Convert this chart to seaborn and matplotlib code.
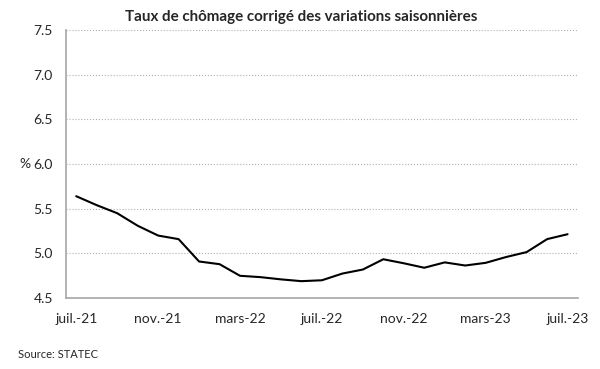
import pandas as pd
import matplotlib.pyplot as plt
import seaborn as sns

# mois de juil.-21 a juil.-23
mois = ['juil.-21', 'août-21', 'sept.-21', 'oct.-21', 'nov.-21', 'déc.-21',
        'janv.-22', 'févr.-22', 'mars-22', 'avr.-22', 'mai-22', 'juin-22',
        'juil.-22', 'août-22', 'sept.-22', 'oct.-22', 'nov.-22', 'déc.-22',
        'janv.-23', 'févr.-23', 'mars-23', 'avr.-23', 'mai-23', 'juin-23',
        'juil.-23']
taux = [5.64, 5.54, 5.45, 5.31, 5.20, 5.16, 4.91, 4.88, 4.75, 4.735, 4.71, 4.69,
        4.70, 4.775, 4.82, 4.935, 4.89, 4.84, 4.90, 4.865, 4.895, 4.96, 5.015,
        5.16, 5.215]
yticks = [4.5, 5.0, 5.5, 6.0, 6.5, 7.0, 7.5]

df = pd.DataFrame({'pos': range(len(mois)), 'mois': mois, 'taux': taux})

sns.set_style('white')
plt.rcParams['font.family'] = ['Lato', 'DejaVu Sans']

fig, ax = plt.subplots(figsize=(6, 3.69), dpi=100)
fig.subplots_adjust(left=0.11, right=0.963, top=0.919, bottom=0.192)

sns.lineplot(data=df, x='pos', y='taux', color='black', linewidth=1.5, ax=ax)

ax.set_xlim(-0.5, len(mois) - 0.5)
ax.set_ylim(4.5, 7.5)
ax.set_yticks(yticks)
ax.set_yticklabels([f'{v:.1f}' for v in yticks], fontsize=10)
ax.tick_params(axis='y', length=0, pad=9.5)

# etiquettes au centre des categories, traits entre les categories
lab_pos = df['pos'][::4]
ax.set_xticks(lab_pos)
ax.set_xticklabels(df['mois'][::4], fontsize=10)
ax.set_xticks([p - 0.5 for p in lab_pos[1:]], minor=True)
ax.tick_params(axis='x', which='major', length=0, pad=11)
ax.tick_params(axis='x', which='minor', length=4, width=1, color='#a6a6a6', direction='out')

ax.grid(axis='y', linestyle=':', color='#b0b0b0', linewidth=0.8)
ax.grid(axis='x', visible=False)
ax.yaxis.get_gridlines()[0].set_visible(False)

sns.despine(ax=ax)
for s in ['left', 'bottom']:
    ax.spines[s].set_color('#a6a6a6')
    ax.spines[s].set_linewidth(1.2)

ax.set_xlabel('')
ax.set_ylabel('%', rotation=0, fontsize=10, va='center', ha='center')
ax.yaxis.set_label_coords(-0.08, 0.5)

fig.text(0.502, 0.955, 'Taux de chômage corrigé des variations saisonnières',
         ha='center', va='center', fontsize=10.9, fontweight='bold')
fig.text(0.03, 0.038, 'Source: STATEC', fontsize=8, ha='left', va='center')

plt.savefig('out.png', dpi=100)
